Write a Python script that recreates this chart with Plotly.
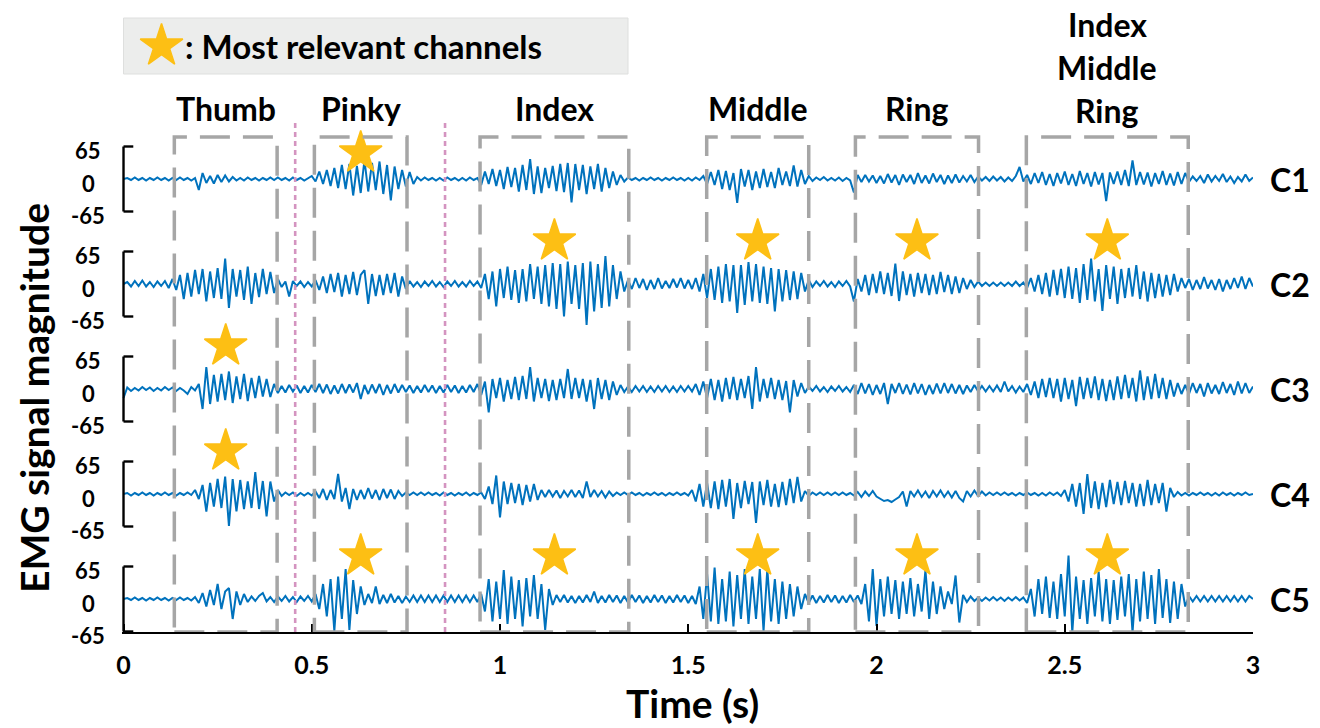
import numpy as np
import plotly.graph_objects as go

# ---------------- data ----------------
channels = ["C1", "C2", "C3", "C4", "C5"]
time_ticks = [0, 0.5, 1, 1.5, 2, 2.5, 3]
time_tick_labels = ["0", "0.5", "1", "1.5", "2", "2.5", "3"]
y_tick_labels = ["65", "0", "-65"]

segments = ["Thumb", "Pinky", "Index", "Middle", "Ring", "Index<br>Middle<br>Ring"]
seg_start = [0.135, 0.507, 0.947, 1.549, 1.944, 2.398]
seg_end = [0.408, 0.753, 1.342, 1.820, 2.271, 2.828]
# most relevant channels per segment (indices into channels)
seg_relevant = [[2, 3], [0, 4], [1, 4], [1, 4], [1, 4], [1, 4]]
transitions = [0.456, 0.854]

# EMG samples, one value every 10 ms (0 .. 3 s)
c1 = [0,2,-2,3,-2,2,-3,2,-2,3,
      -2,2,-3,2,-2,3,-2,2,-3,2,
      -22,12,-8,6,-9,8,-6,7,-5,4,
      -3,2,-3,3,-2,2,-3,2,-2,3,
      -2,3,-2,2,-3,3,-2,2,-3,2,
      6,-5,15,-10,18,-14,22,-18,28,-20,
      30,-33,26,-28,38,-25,32,-22,35,-30,
      28,-43,25,-20,18,-15,14,-10,4,-3,
      3,-2,2,-3,2,-3,3,-2,2,-3,
      2,-3,3,-2,2,-12,15,-10,20,-14,
      18,-20,24,-16,22,-25,28,-22,40,-30,
      25,-28,22,-18,26,-24,30,-26,32,-47,
      30,-22,28,-30,25,-20,30,-25,22,-18,
      15,-12,8,-5,3,-2,2,-3,2,-2,
      3,-2,2,-3,2,-2,3,-2,2,-3,
      2,-3,3,-2,6,-10,14,-12,18,-20,
      16,-22,12,-48,20,-15,18,-22,15,-18,
      20,-16,14,-18,22,-12,15,-14,27,-15,
      18,-10,6,-4,3,-2,4,-3,2,-3,
      3,-4,2,-3,-27,8,-6,8,-5,7,
      -8,6,-9,10,-7,8,-12,9,-6,8,
      -10,12,-8,7,-9,11,-6,8,-10,7,
      -8,9,-7,6,-5,8,-6,5,-3,4,
      -4,5,-3,4,-5,3,-4,6,24,-5,
      8,-10,12,-8,14,-12,10,-14,12,-9,
      15,-12,10,-14,16,-10,12,-15,14,-11,
      12,-44,13,-10,15,-12,18,-14,37,-12,
      14,-11,13,-15,12,-10,16,-12,11,-13,
      14,-10,12,-6,5,-4,6,-8,9,-5,
      6,-4,10,-6,5,-8,4,-5,9,-4,
      3]
c2 = [0,4,-5,6,-4,7,-5,4,-6,5,
      -4,6,-8,10,-12,18,-30,22,-25,28,
      -20,30,-35,25,-28,32,-30,51,-48,30,
      -25,28,-32,35,-40,22,-26,30,-20,24,
      -18,10,-6,5,-25,6,-4,5,-6,4,
      -5,8,-12,15,-18,20,-16,22,-25,18,
      -20,24,-22,18,28,-40,20,-24,18,-22,
      20,-18,22,-25,15,-10,6,-5,4,-6,
      5,-4,6,-5,4,-6,5,-4,6,-5,
      4,-5,6,-4,5,-8,20,-30,25,-45,
      30,-28,35,-32,28,-38,30,-35,40,-30,
      35,-40,38,-45,42,-50,40,-65,45,-40,
      38,-50,42,-82,45,-55,40,-48,56,-45,
      38,-30,25,-15,8,-10,12,-8,10,-12,
      8,-10,12,-9,6,-8,10,-7,12,-9,
      8,-10,12,-15,20,-28,30,-32,35,-38,
      40,-35,38,-58,38,-42,44,-35,40,-38,
      35,-40,32,-55,30,-35,28,-32,25,-30,
      22,-15,8,-6,5,-4,6,-5,4,-6,
      5,-4,6,-5,-35,10,-15,18,-22,20,
      -18,25,-20,22,-24,41,-34,25,-22,20,
      -25,22,-18,20,-22,18,-20,24,-16,18,
      -20,15,-18,12,-10,8,-6,5,-4,3,
      -4,3,-4,3,-4,3,-4,5,-4,3,
      -8,12,-15,18,-20,22,-25,28,-22,30,
      -28,35,-30,32,-38,40,-32,51,-35,30,
      -54,38,-30,35,-40,30,-28,32,-25,38,
      -30,25,-35,22,-28,20,-25,18,-22,20,
      -15,12,-8,10,-12,8,-10,14,-9,8,
      -12,10,-15,8,-10,12,-8,15,-10,12,
      -5]
c3 = [-18,3,-4,2,-3,4,-2,3,-4,2,
      -3,4,-2,3,-4,2,-3,-10,4,-3,
      10,-40,44,-30,28,-25,30,-22,35,-28,
      25,-20,30,-24,22,-18,26,-15,20,-16,
      10,-8,6,-7,8,-5,7,-8,6,-7,
      8,-6,10,-8,9,-10,7,-9,10,-8,
      9,-7,12,-20,8,-10,9,-8,10,-12,
      8,-9,10,-7,8,-6,7,-8,6,-7,
      8,-6,7,-8,6,-7,8,-6,7,-8,
      6,-7,8,-6,10,-12,15,-47,20,-18,
      22,-25,18,-20,24,-22,26,-20,44,-25,
      22,-18,20,-24,18,-22,20,-18,40,-20,
      22,-18,20,-25,18,-40,22,-20,18,-22,
      15,-12,8,-6,5,-6,6,-5,6,-6,
      5,-6,6,-5,6,-6,5,-6,6,-5,
      6,-5,10,-12,15,-18,20,-22,18,-25,
      22,-20,24,-22,20,-18,26,-40,44,-25,
      20,-18,22,-20,18,-22,16,-47,18,-15,
      12,-8,5,-4,6,-5,4,-6,5,-4,
      6,-5,4,-6,8,-10,12,-9,10,-12,
      8,-10,12,-30,10,-8,12,-10,9,-11,
      12,-9,10,-12,8,-10,11,-9,12,-8,
      10,-9,8,-10,7,-6,8,-5,6,-5,
      6,-5,7,-6,15,-5,6,-7,5,-6,
      10,-12,15,-18,20,-16,22,-18,20,-25,
      22,-20,18,-34,24,-20,22,-18,25,-22,
      20,-24,18,-22,25,-20,28,-18,22,-25,
      37,-22,25,-20,30,-18,22,-20,18,-15,
      12,-10,8,-10,12,-8,10,-15,12,-9,
      8,-10,14,-8,10,-12,15,-9,12,-8,
      5]
c4 = [0,2,-3,2,-2,3,-2,2,-3,2,
      -2,3,-2,2,-3,2,-2,3,-2,8,
      -10,18,-35,22,-25,30,-28,35,-64,30,
      -35,28,-30,25,-28,44,-30,26,-45,25,
      -15,8,-4,3,-2,3,-4,2,-3,2,
      -3,5,-8,10,-12,8,-10,40,-15,12,
      -30,10,-12,8,-10,12,-9,8,-12,10,
      -8,9,-10,6,-4,3,-2,3,-2,3,
      -2,3,-2,2,-3,3,-2,2,-3,2,
      -2,3,-3,2,-2,3,-10,15,-20,37,
      -47,25,-20,22,-18,20,-22,18,-15,20,
      -12,8,-6,8,-5,7,-8,6,-5,8,
      -6,7,-8,25,-6,8,-5,6,-7,5,
      -4,3,-2,3,-2,3,-2,2,-3,2,
      -2,3,-2,2,-3,2,-2,3,-2,2,
      -3,8,-15,20,-25,22,-28,25,-30,28,
      -25,30,-50,22,-28,26,-20,24,-58,25,
      -22,28,-25,20,-26,24,-22,30,-18,34,
      -15,6,-4,3,-2,3,-2,3,-2,3,
      -2,3,-2,2,-3,4,-6,5,-4,6,
      -5,-10,-14,-12,-16,-11,-6,5,-25,6,
      -5,7,-6,5,-8,6,-5,7,-6,5,
      -7,6,-8,-15,6,-5,7,-4,5,-3,
      3,-2,3,-2,3,-2,2,-3,2,-2,
      3,-2,2,-3,2,-3,3,-2,3,-4,
      8,-15,20,-25,22,-40,40,-28,25,-30,
      22,-26,28,-20,24,-22,26,-18,22,-25,
      20,-24,28,-22,20,-18,22,-35,12,-6,
      4,-3,2,-3,2,-2,3,-2,2,-3,
      2,-3,3,-2,2,-3,2,-2,3,-2,
      0]
c5 = [0,2,-2,3,-2,2,-3,2,-2,3,
      -2,2,-3,2,-2,3,-2,2,-3,4,
      -8,12,-15,18,-12,30,-20,15,22,-40,
      15,-12,10,-6,5,-4,6,12,-5,4,
      -6,5,-4,6,-5,4,-6,5,-4,6,
      -5,10,-20,30,-35,40,-64,45,-40,60,
      -62,38,-30,25,-12,10,-8,25,-10,8,
      -8,10,-7,6,-8,5,-6,7,-6,7,
      -6,7,-6,7,-6,7,-6,7,-6,7,
      -6,7,-6,7,-6,10,-25,40,-45,35,
      -40,58,-50,45,-40,38,-55,42,-35,48,
      -40,30,-62,20,-12,8,-6,8,-7,6,
      -8,6,-7,8,-6,15,-8,6,-7,8,
      -6,7,-8,6,-7,8,-6,7,-8,6,
      -7,8,-6,7,-8,6,-7,8,-6,7,
      -8,6,-10,25,-40,50,-45,63,-50,40,
      -45,55,-55,48,-40,60,-50,45,-40,60,
      -64,60,-45,40,-50,35,-40,30,-35,25,
      -20,10,-8,7,-8,6,-7,8,-6,7,
      -8,6,-7,8,-6,7,-10,30,-45,60,
      -54,40,-35,45,-30,38,-40,35,-30,42,
      -35,30,-25,58,-40,35,-30,25,-20,15,
      -10,47,-47,8,-6,5,-4,3,-4,3,
      -3,4,-3,3,-4,3,-3,4,-3,3,
      -8,20,-35,40,-30,45,-38,35,-40,50,
      -35,87,-67,45,-40,38,-50,42,-35,55,
      -45,40,-50,38,-42,45,-35,50,-67,40,
      -45,55,-40,48,-50,60,-38,40,-48,35,
      -40,30,-15,6,-5,6,-5,6,-5,6,
      -5,6,-5,6,-5,6,-5,6,-5,6,
      0]
signals = [c1, c2, c3, c4, c5]
sample_step = 0.01

# ---------------- styling / layout ----------------
SPACING = 210          # vertical distance between channel baselines (signal units)
FONT = "Lato"
BLUE = "#0072BD"
GOLD = "#FDBF14"
GRAY = "#A6A6A6"
PINK = "#D494C0"

n = len(c1)
t = np.round(np.arange(n) * sample_step, 3)
offsets = [(len(channels) - 1 - k) * SPACING for k in range(len(channels))]

fig = go.Figure()
for k, sig in enumerate(signals):
    fig.add_trace(go.Scatter(
        x=t, y=np.array(sig) + offsets[k], mode="lines",
        line=dict(color=BLUE, width=2.0), hoverinfo="skip", showlegend=False))

# stars
sx, sy = [], []
for s, rel in enumerate(seg_relevant):
    cx = (seg_start[s] + seg_end[s]) / 2
    for ch in rel:
        sx.append(cx)
        sy.append(offsets[ch] + (52 if ch == 0 else 86))
star_marker = dict(symbol="star", size=32, color=GOLD, line=dict(color=GOLD, width=1.5))
fig.add_trace(go.Scatter(x=sx, y=sy, mode="markers", marker=star_marker,
                         hoverinfo="skip", showlegend=False))
# legend star
fig.add_trace(go.Scatter(x=[0.101], y=[1106], mode="markers", marker=star_marker,
                         hoverinfo="skip", showlegend=False))

shapes = []
# legend box
shapes.append(dict(type="rect", xref="x", yref="y", x0=0.0, x1=1.34, y0=1050, y1=1162,
                   fillcolor="#ECEDEC", line=dict(color="#DEDFDE", width=1), layer="below"))
# y brackets
for off in offsets:
    shapes.append(dict(type="line", xref="x", yref="y", x0=0, x1=0, y0=off - 65, y1=off + 65,
                       line=dict(color="black", width=2.4)))
    for yy in (off - 65, off + 65):
        shapes.append(dict(type="line", xref="x", yref="y", x0=0, x1=0.026, y0=yy, y1=yy,
                           line=dict(color="black", width=2.4)))
# transition lines
for tx in transitions:
    shapes.append(dict(type="line", xref="x", yref="y", x0=tx, x1=tx, y0=-66, y1=958,
                       line=dict(color=PINK, width=2.6, dash="5px,4px"), layer="above"))
# segment boxes
for a, b in zip(seg_start, seg_end):
    shapes.append(dict(type="rect", xref="x", yref="y", x0=a, x1=b, y0=-66, y1=924,
                       line=dict(color=GRAY, width=3.5, dash="30px,13px"), layer="above"))

annotations = []
bold = dict(family=FONT, color="black", weight="bold")
centered = dict(xanchor="center", yanchor="middle", showarrow=False)
for s, name in enumerate(segments):
    cx = (seg_start[s] + seg_end[s]) / 2
    if "<br>" in name:
        for j, part in enumerate(name.split("<br>")):
            annotations.append(dict(x=cx, y=1150 - j * 86, xref="x", yref="y", text=part,
                                    font=dict(size=32, **bold), **centered))
    else:
        annotations.append(dict(x=cx, y=982, xref="x", yref="y", text=name,
                                font=dict(size=32, **bold), **centered))
for k, ch in enumerate(channels):
    annotations.append(dict(x=1.0327, y=offsets[k], xref="paper", yref="y", text=ch,
                            font=dict(size=32, **bold), **centered))
    for lab in y_tick_labels:
        annotations.append(dict(x=-0.030, y=offsets[k] + int(lab), xref="paper", yref="y",
                                text=lab, yshift=-4, font=dict(size=22, **bold), **centered))
annotations.append(dict(x=0.159, y=1106, xref="x", yref="y", xanchor="left", yanchor="middle",
                        text=": Most relevant channels", showarrow=False,
                        font=dict(size=33, **bold)))
annotations.append(dict(x=-0.0778, y=402, xref="paper", yref="y", textangle=-90,
                        text="EMG signal magnitude", font=dict(size=39, **bold), **centered))
annotations.append(dict(x=1.51, y=-0.114, xref="x", yref="paper",
                        text="Time (s)", font=dict(size=39, **bold), **centered))

# page body has an 8px margin, so the figure is 8px smaller on each axis
fig.update_layout(
    width=1312, height=720,
    margin=dict(l=114, r=67, t=0, b=96, autoexpand=False),
    paper_bgcolor="white", plot_bgcolor="white",
    shapes=shapes, annotations=annotations,
    xaxis=dict(range=[-0.004, 3.0], tickvals=time_ticks, ticktext=time_tick_labels,
               ticks="inside", ticklen=8, tickwidth=2, tickcolor="black",
               showline=True, linewidth=2, linecolor="black",
               showgrid=False, zeroline=False, ticklabelstandoff=10,
               tickfont=dict(size=25, **bold)),
    yaxis=dict(range=[-66, 1182], showticklabels=False, ticks="",
               showline=False, showgrid=False, zeroline=False),
)

fig.write_html("out.html", default_width="1312px", default_height="720px")
